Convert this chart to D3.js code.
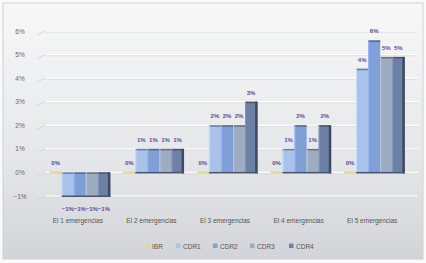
<!DOCTYPE html>
<html><head><meta charset="utf-8">
<script src="https://cdn.jsdelivr.net/npm/d3@7"></script>
<style>html,body{margin:0;padding:0;background:#fff}svg{display:block}</style>
</head><body>
<script>
const categories = ["El 1 emergencias", "El 2 emergencias", "El 3 emergencias", "El 4 emergencias", "El 5 emergencias"];
const seriesNames = ["IBR", "CDR1", "CDR2", "CDR3", "CDR4"];
const IBR  = [0, 0, 0, 0, 0];
const CDR1 = [-1, 1, 2, 1, 4.4];
const CDR2 = [-1, 1, 2, 2, 5.6];
const CDR3 = [-1, 1, 2, 1, 4.9];
const CDR4 = [-1, 1, 3, 2, 4.9];
const yTicks = [-1, 0, 1, 2, 3, 4, 5, 6];
const colors = ["#e4d98a", "#a8c2ea", "#7f9fd6", "#9eacc2", "#6d81a6"];
const series = [IBR, CDR1, CDR2, CDR3, CDR4];

const W = 426, H = 263;
const svg = d3.select("body").append("svg").attr("width", W).attr("height", H);
const defs = svg.append("defs");
const bg = defs.append("linearGradient").attr("id", "bg").attr("x1", 0).attr("y1", 0).attr("x2", 0).attr("y2", 1);
bg.append("stop").attr("offset", "0%").attr("stop-color", "#f8f8f8");
bg.append("stop").attr("offset", "60%").attr("stop-color", "#e6e7ea");
bg.append("stop").attr("offset", "100%").attr("stop-color", "#d3d4d8");
svg.append("rect").attr("width", W).attr("height", H).attr("fill", "#fafafa");
svg.append("rect").attr("x", 3).attr("y", 3).attr("width", W - 6).attr("height", H - 7)
  .attr("fill", "url(#bg)").attr("stroke", "#d0d0d0");

const x0 = d3.scaleBand().domain(categories).range([43, 411]).paddingInner(0).paddingOuter(0);
const x1 = d3.scaleBand().domain(seriesNames).range([0, x0.bandwidth()]).paddingInner(0).paddingOuter(0.55);
const y = d3.scaleLinear().domain([-1, 6]).range([196, 31]);

// gridlines with 3D-like left wall diagonal
const grid = svg.append("g");
yTicks.forEach(t => {
  grid.append("line").attr("x1", 45).attr("x2", 418).attr("y1", y(t)).attr("y2", y(t))
    .attr("stroke", "#ffffff").attr("stroke-width", 1.2);
  grid.append("line").attr("x1", 45).attr("x2", 418).attr("y1", y(t) + 1.2).attr("y2", y(t) + 1.2)
    .attr("stroke", "#d9dadd").attr("stroke-width", 0.8);
  grid.append("line").attr("x1", 37).attr("x2", 45).attr("y1", y(t) + 4).attr("y2", y(t))
    .attr("stroke", "#cfd0d4").attr("stroke-width", 0.8);
});

// y axis labels
const yAxis = d3.axisLeft(y).tickValues(yTicks).tickFormat(d => d3.format(".0f")(d) + "%").tickSize(0).tickPadding(0);
const ya = svg.append("g").attr("transform", "translate(28,0)").call(yAxis);
ya.select(".domain").remove();
ya.selectAll("text").attr("font-family", "Liberation Sans, Arial, sans-serif").attr("font-size", 6.5).attr("fill", "#666").attr("text-anchor", "middle").attr("x", -8);

// bars
const pct = d3.format(".0%");
const gBars = svg.append("g");
categories.forEach((c, i) => {
  seriesNames.forEach((s, j) => {
    const v = series[j][i];
    const bx = x0(c) + x1(s);
    const bw = x1.bandwidth();
    let top = Math.min(y(v), y(0)), h = Math.abs(y(v) - y(0));
    if (h < 2) { top = y(0) - 1; h = 2; }
    const g = gBars.append("g");
    g.append("rect").attr("x", bx).attr("y", top).attr("width", bw).attr("height", h)
      .attr("fill", colors[j]);
    if (v !== 0) {
      g.append("rect").attr("x", bx).attr("y", top).attr("width", bw).attr("height", 1.5)
        .attr("fill", d3.color(colors[j]).darker(1.2));
      g.append("rect").attr("x", bx).attr("y", top).attr("width", 1).attr("height", h)
        .attr("fill", d3.color(colors[j]).brighter(0.4));
    }
    if (j === seriesNames.length - 1 && v !== 0) {
      g.append("rect").attr("x", bx + bw - 2).attr("y", top).attr("width", 2.5).attr("height", h + 1)
        .attr("fill", "#3f4a60");
    }
    const ly = v >= 0 ? y(v) - 7 : y(v) + 15;
    g.append("text").attr("x", bx + bw / 2).attr("y", ly).attr("text-anchor", "middle")
      .attr("font-family", "Liberation Sans, Arial, sans-serif").attr("font-size", 6).attr("font-weight", "bold")
      .attr("fill", "#5a4b96").text(pct(v / 100));
  });
});
// group base shadow
categories.forEach(c => {
  const bx = x0(c) + x1("CDR1"), ex = x0(c) + x1("CDR4") + x1.bandwidth();
  const mn = d3.min(series.slice(1), s => s[categories.indexOf(c)]);
  gBars.append("rect").attr("x", bx).attr("y", Math.max(y(0), y(mn)) - 0.5).attr("width", ex - bx + 0.5).attr("height", 1.5).attr("fill", "#4a5570");
});

// category labels
const xa = svg.append("g").attr("transform", "translate(-2,221)").call(d3.axisBottom(x0).tickSize(0).tickPadding(0));
xa.select(".domain").remove();
xa.selectAll("text").attr("font-family", "Liberation Sans, Arial, sans-serif").attr("font-size", 6.5).attr("fill", "#555").attr("dy", "0.35em");

// legend
const legendX = [145, 176, 213, 250, 289];
const lg = svg.append("g");
seriesNames.forEach((s, j) => {
  lg.append("rect").attr("x", legendX[j]).attr("y", 243.5).attr("width", 4.5).attr("height", 4.5).attr("fill", colors[j]);
  lg.append("text").attr("x", legendX[j] + 7).attr("y", 248.5).attr("font-family", "Liberation Sans, Arial, sans-serif")
    .attr("font-size", 6.5).attr("fill", "#555").text(s);
});
</script>
</body></html>
